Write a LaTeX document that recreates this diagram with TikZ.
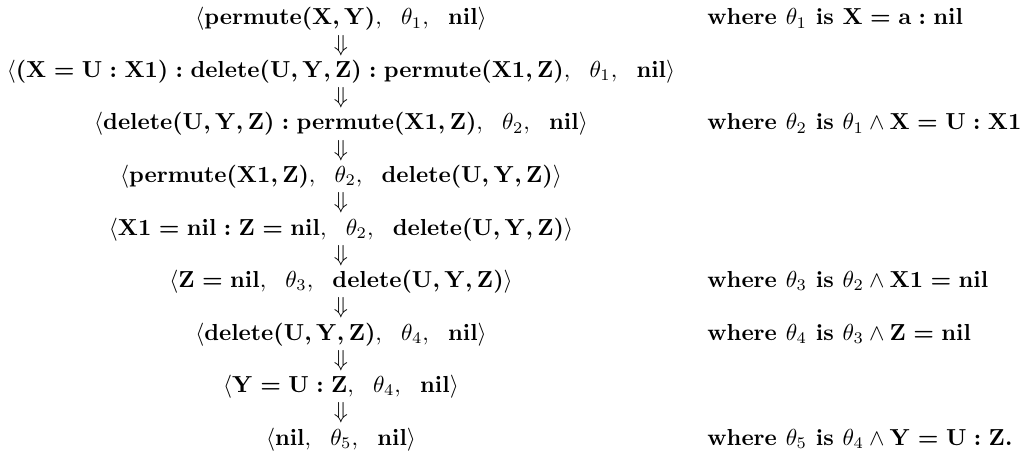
\documentclass[tikz,border=0pt]{standalone}
\usepackage{amsmath}
\newcommand{\B}[1]{\boldsymbol{\mathbf{#1}}}
\newcommand{\cfg}[3]{$\langle #1,\ \ #2,\ \ #3\rangle$}
\begin{document}
\begin{tikzpicture}[x=0.4317pt,y=-0.4317pt,
  row/.style={inner sep=0pt,anchor=base},
  note/.style={inner sep=0pt,anchor=base west,font=\bfseries},
  arr/.style={inner sep=0pt}]
\useasboundingbox (0,0) rectangle (1026,461);
\node[row] (r1) at (341,25) {\cfg{\B{permute(X,Y)}}{\theta_1}{\B{nil}}};
\node[row] (r2) at (341,77.5) {\cfg{\B{(X=U:X1):delete(U,Y,Z):permute(X1,Z)}}{\theta_1}{\B{nil}}};
\node[row] (r3) at (341,130) {\cfg{\B{delete(U,Y,Z):permute(X1,Z)}}{\theta_2}{\B{nil}}};
\node[row] (r4) at (341,182.5) {\cfg{\B{permute(X1,Z)}}{\theta_2}{\B{delete(U,Y,Z)}}};
\node[row] (r5) at (341,235) {\cfg{\B{X1=nil:Z=nil}}{\theta_2}{\B{delete(U,Y,Z)}}};
\node[row] (r6) at (341,287.5) {\cfg{\B{Z=nil}}{\theta_3}{\B{delete(U,Y,Z)}}};
\node[row] (r7) at (341,340) {\cfg{\B{delete(U,Y,Z)}}{\theta_4}{\B{nil}}};
\node[row] (r8) at (341,392.5) {\cfg{\B{Y=U:Z}}{\theta_4}{\B{nil}}};
\node[row] (r9) at (341,445) {\cfg{\B{nil}}{\theta_5}{\B{nil}}};
\foreach \a/\b in {r1/r2,r2/r3,r3/r4,r4/r5,r5/r6,r6/r7,r7/r8,r8/r9}
  \path (\a.base) -- (\b.base) node[arr,midway,yshift=2.5pt] {$\Downarrow$};
\node[note] (w1) at (707,25) {where $\theta_1$ is $\B{X=a:nil}$};
\node[note] (w2) at (707,130) {where $\theta_2$ is $\theta_1\wedge\B{X=U:X1}$};
\node[note] (w3) at (707,287.5) {where $\theta_3$ is $\theta_2\wedge\B{X1=nil}$};
\node[note] (w4) at (707,340) {where $\theta_4$ is $\theta_3\wedge\B{Z=nil}$};
\node[note] (w5) at (707,445) {where $\theta_5$ is $\theta_4\wedge\B{Y=U:Z}$.};
\end{tikzpicture}
\end{document}
